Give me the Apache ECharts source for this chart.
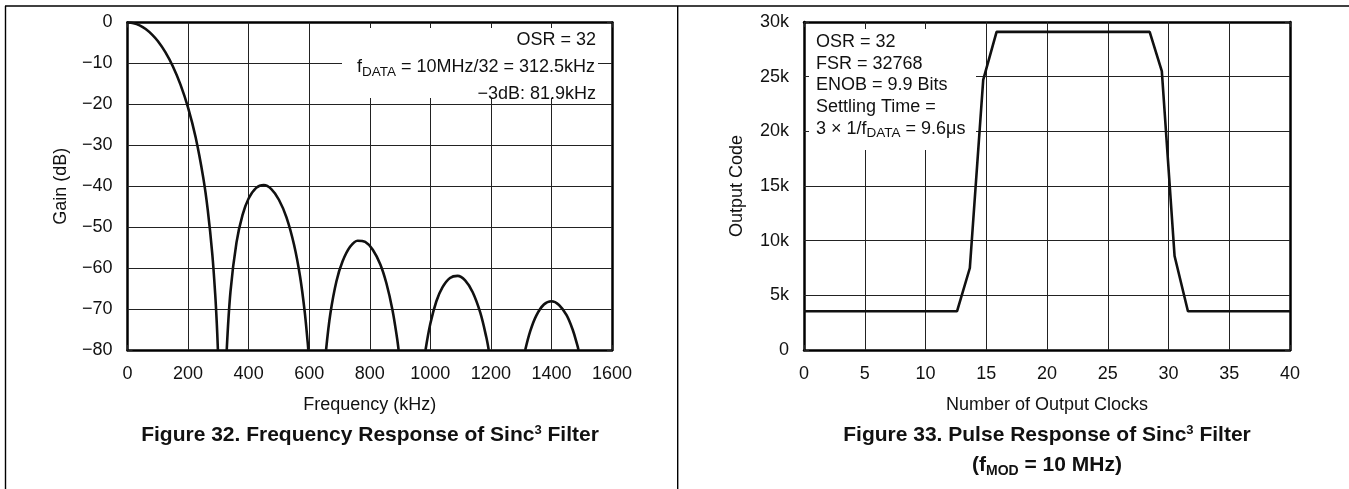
<!DOCTYPE html>
<html>
<head>
<meta charset="utf-8">
<script src="https://cdn.jsdelivr.net/npm/echarts@6/dist/echarts.min.js"></script>
<style>
  html, body { margin: 0; padding: 0; background: #fff; }
  #chart { width: 1349px; height: 489px; }
</style>
</head>
<body>
<div id="chart"></div>
<script>
// Figure 32: sinc3 frequency response, lobes split by nulls
const freqKHz = [0, 20, 40, 60, 82, 100, 125, 150, 175, 200, 225, 250, 265, 280, 290, 295, 298.6,
  312.5,
  327.7, 340, 360, 380, 400, 425, 450, 475, 500, 525, 550, 570, 585, 595, 597.1,
  625,
  655.7, 670, 690, 710, 735, 760, 785, 810, 835, 855, 875, 890, 895.3,
  937.5,
  984.2, 1000, 1020, 1040, 1065, 1090, 1115, 1140, 1165, 1185, 1192.9,
  1250,
  1313.4, 1330, 1350, 1375, 1400, 1425, 1450, 1470, 1485, 1489.5];
const gainDB = [0, -0.18, -0.71, -1.6, -3.02, -4.54, -7.25, -10.75, -15.17, -20.79, -28.04, -37.83, -45.76, -56.55, -66.8, -73.7, -80,
  null,
  -80, -65.8, -53.7, -47.0, -43.0, -40.4, -39.7, -40.7, -43.3, -47.6, -54.3, -62.1, -70.5, -78.1, -80,
  null,
  -80, -71.1, -63.2, -58.4, -54.8, -53.3, -53.6, -55.5, -59.1, -63.7, -70.2, -77.0, -80,
  null,
  -80, -73.6, -68.1, -64.7, -62.4, -61.9, -63.0, -65.9, -70.9, -76.9, -80,
  null,
  -80, -75.4, -71.6, -68.9, -68.1, -69.0, -71.5, -75.0, -78.7, -80];

// Figure 33: pulse response
const clocks = [0, 12.6, 13.65, 14.75, 15.85, 28.45, 29.45, 30.5, 31.6, 40];
const outputCode = [3550, 3550, 7500, 24700, 29100, 29100, 25500, 8600, 3550, 3550];

const freqTicks = { min: 0, max: 1600, interval: 200 };
const gainTicks = { min: -80, max: 0, interval: 10 };
const clockTicks = { min: 0, max: 40, interval: 5 };
const codeTicks = { min: 0, max: 30000, interval: 5000 };

const FONT = 'Liberation Sans, Arial, sans-serif';
const INK = '#111';

const chart = echarts.init(document.getElementById('chart'), null, { renderer: 'canvas' });

function gridAxis(gridIndex, range, position, extra) {
  return Object.assign({
    type: 'value',
    gridIndex: gridIndex,
    position: position,
    min: range.min,
    max: range.max,
    interval: range.interval,
    z: 5,
    axisLine: { show: true, onZero: false, lineStyle: { color: '#000', width: 2.5 } },
    axisTick: { show: true, inside: true, length: 5, lineStyle: { color: '#222', width: 1 } },
    axisLabel: { show: false },
    splitLine: { show: false }
  }, extra);
}

function labelAxis(gridIndex, range, position, name, nameGap, rotate, formatter) {
  return {
    type: 'value',
    gridIndex: gridIndex,
    position: position,
    min: range.min,
    max: range.max,
    interval: range.interval,
    z: 0,
    axisLine: { show: false },
    axisTick: { show: false },
    splitLine: { show: true, lineStyle: { color: '#222', width: 1 } },
    axisLabel: { fontSize: 18, fontFamily: FONT, color: INK, margin: 15, formatter: formatter },
    name: name,
    nameLocation: 'middle',
    nameGap: nameGap,
    nameRotate: rotate,
    nameTextStyle: { fontSize: 18, fontFamily: FONT, color: INK }
  };
}

const plain = v => String(v);
const minus = v => (v < 0 ? '\u2212' + Math.abs(v) : String(v));
const kilo = v => (v === 0 ? '0' : v / 1000 + 'k');

const option = {
  animation: false,
  backgroundColor: '#fff',
  grid: [
    { left: 127.5, top: 22.5, width: 484.5, height: 327.5 },
    { left: 804, top: 22, width: 486, height: 328 }
  ],
  xAxis: [
    labelAxis(0, freqTicks, 'bottom', 'Frequency (kHz)', 46, 0, plain),
    gridAxis(0, freqTicks, 'bottom'),
    gridAxis(0, freqTicks, 'top'),
    labelAxis(1, clockTicks, 'bottom', 'Number of Output Clocks', 46, 0, plain),
    gridAxis(1, clockTicks, 'bottom'),
    gridAxis(1, clockTicks, 'top')
  ],
  yAxis: [
    labelAxis(0, gainTicks, 'left', 'Gain (dB)', 57, 90, minus),
    gridAxis(0, gainTicks, 'left'),
    gridAxis(0, gainTicks, 'right'),
    labelAxis(1, codeTicks, 'left', 'Output Code', 58, 90, kilo),
    gridAxis(1, codeTicks, 'left'),
    gridAxis(1, codeTicks, 'right')
  ],
  series: [
    {
      type: 'line',
      xAxisIndex: 0,
      yAxisIndex: 0,
      z: 6,
      showSymbol: false,
      smooth: 0.35,
      connectNulls: false,
      lineStyle: { color: INK, width: 2.6 },
      data: freqKHz.map((f, i) => [f, gainDB[i] === null ? '-' : gainDB[i]])
    },
    {
      type: 'line',
      xAxisIndex: 3,
      yAxisIndex: 3,
      z: 6,
      showSymbol: false,
      lineStyle: { color: INK, width: 2.6 },
      data: clocks.map((c, i) => [c, outputCode[i]])
    }
  ],
  graphic: [
    // page frame
    { type: 'line', z: 10, shape: { x1: 5, y1: 6, x2: 1349, y2: 6 }, style: { stroke: '#000', lineWidth: 1.4 } },
    { type: 'line', z: 10, shape: { x1: 5.5, y1: 6, x2: 5.5, y2: 489 }, style: { stroke: '#000', lineWidth: 1.4 } },
    { type: 'line', z: 10, shape: { x1: 677.7, y1: 6, x2: 677.7, y2: 489 }, style: { stroke: '#000', lineWidth: 1.4 } },

    // white boxes behind the notes
    { type: 'rect', z: 2, shape: { x: 342, y: 28, width: 256, height: 70 }, style: { fill: '#fff' } },
    { type: 'rect', z: 2, shape: { x: 806, y: 29, width: 170, height: 121 }, style: { fill: '#fff' } },

    // left notes
    { type: 'text', z: 3, x: 596, y: 39.7, style: { text: 'OSR = 32', fontSize: 18, fontFamily: FONT, fill: INK, align: 'right', verticalAlign: 'middle' } },
    { type: 'text', z: 3, x: 595, y: 67, style: {
        text: 'f{sub|DATA} = 10MHz/32 = 312.5kHz', fontSize: 18, fontFamily: FONT, fill: INK, lineHeight: 24,
        align: 'right', verticalAlign: 'middle',
        rich: { sub: { fontSize: 13.5, fontFamily: FONT, fill: INK, lineHeight: 13, verticalAlign: 'bottom' } }
      } },
    { type: 'text', z: 3, x: 596, y: 93.7, style: { text: '\u22123dB: 81.9kHz', fontSize: 18, fontFamily: FONT, fill: INK, align: 'right', verticalAlign: 'middle' } },

    // right notes
    { type: 'text', z: 3, x: 816, y: 42, style: { text: 'OSR = 32', fontSize: 18, fontFamily: FONT, fill: INK, align: 'left', verticalAlign: 'middle' } },
    { type: 'text', z: 3, x: 816, y: 63.7, style: { text: 'FSR = 32768', fontSize: 18, fontFamily: FONT, fill: INK, align: 'left', verticalAlign: 'middle' } },
    { type: 'text', z: 3, x: 816, y: 85.4, style: { text: 'ENOB = 9.9 Bits', fontSize: 18, fontFamily: FONT, fill: INK, align: 'left', verticalAlign: 'middle' } },
    { type: 'text', z: 3, x: 816, y: 107, style: { text: 'Settling Time =', fontSize: 18, fontFamily: FONT, fill: INK, align: 'left', verticalAlign: 'middle' } },
    { type: 'text', z: 3, x: 816, y: 128.7, style: {
        text: '3 \u00d7 1/f{sub|DATA} = 9.6\u03bcs', fontSize: 18, fontFamily: FONT, fill: INK, lineHeight: 24,
        align: 'left', verticalAlign: 'middle',
        rich: { sub: { fontSize: 13.5, fontFamily: FONT, fill: INK, lineHeight: 13, verticalAlign: 'bottom' } }
      } },

    // captions
    { type: 'text', z: 3, x: 370, y: 435, style: {
        text: 'Figure 32. Frequency Response of Sinc{sup|3} Filter', fontSize: 21, fontWeight: 'bold', fontFamily: FONT, fill: INK,
        lineHeight: 22, align: 'center', verticalAlign: 'middle',
        rich: { sup: { fontSize: 13, fontWeight: 'bold', fontFamily: FONT, fill: INK, lineHeight: 13, verticalAlign: 'top' } }
      } },
    { type: 'text', z: 3, x: 1047, y: 435, style: {
        text: 'Figure 33. Pulse Response of Sinc{sup|3} Filter', fontSize: 21, fontWeight: 'bold', fontFamily: FONT, fill: INK,
        lineHeight: 22, align: 'center', verticalAlign: 'middle',
        rich: { sup: { fontSize: 13, fontWeight: 'bold', fontFamily: FONT, fill: INK, lineHeight: 13, verticalAlign: 'top' } }
      } },
    { type: 'text', z: 3, x: 1047, y: 465, style: {
        text: '(f{sub|MOD} = 10 MHz)', fontSize: 21, fontWeight: 'bold', fontFamily: FONT, fill: INK,
        lineHeight: 26, align: 'center', verticalAlign: 'middle',
        rich: { sub: { fontSize: 14, fontWeight: 'bold', fontFamily: FONT, fill: INK, lineHeight: 14, verticalAlign: 'bottom' } }
      } }
  ]
};

chart.setOption(option);
</script>
</body>
</html>
